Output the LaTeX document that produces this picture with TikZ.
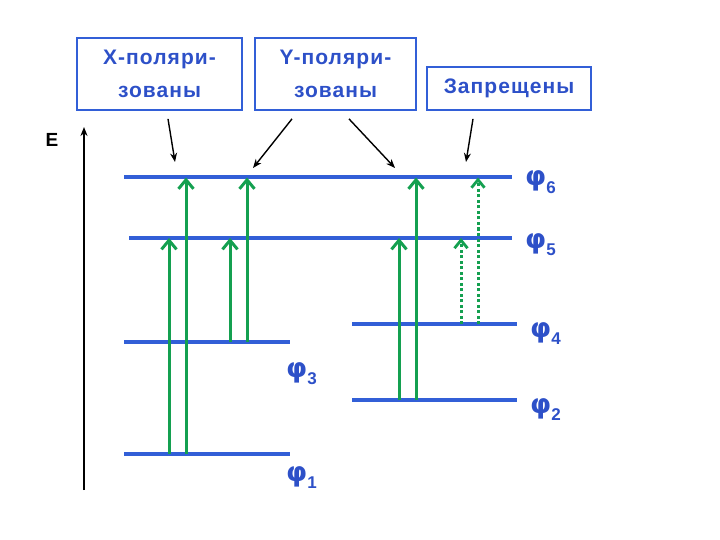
\documentclass[tikz,border=0pt]{standalone}
\usepackage{fontspec}
\setmainfont{Liberation Sans}
\newfontfamily\boxfont{Liberation Sans}[LetterSpace=5]
\newfontfamily\phifont{DejaVu Sans}
\usetikzlibrary{arrows.meta, positioning}
\definecolor{lvlblue}{RGB}{50,95,215}
\definecolor{txtblue}{RGB}{45,80,200}
\definecolor{trgreen}{RGB}{20,160,80}
\tikzset{>=Stealth}
\newcommand{\phil}[1]{{\phifont\bfseries\fontsize{27}{27}\selectfont φ}\raisebox{-7pt}{\fontsize{17}{17}\selectfont\bfseries #1}}

\begin{document}
\begin{tikzpicture}[x=1pt, y=-1pt,
  polbox/.style={draw=lvlblue, line width=1.8pt, text=txtblue, align=center, inner sep=0pt,
    font=\boxfont\bfseries\fontsize{21}{33}\selectfont},
  level/.style={draw=lvlblue, line width=4pt},
  trans/.style={draw=trgreen, line width=3pt, -{Straight Barb[length=9pt, width=15pt, line width=3pt]}},
  forbid/.style={draw=trgreen, line width=3pt, dash pattern=on 3pt off 2.5pt,
    -{Straight Barb[length=8pt, width=13pt, line width=2.8pt]}},
  callout/.style={-{Stealth[length=9pt, width=7pt]}, line width=1.4pt},
  lab/.style={text=txtblue, anchor=base west, inner sep=0pt}]
  \useasboundingbox (0,0) rectangle (720,540);

  % boxes
  \node[polbox, minimum width=165pt, minimum height=72pt] (xbox) at (159.5,74) {X-поляри-\\зованы};
  \node[polbox, minimum width=161pt, minimum height=72pt] (ybox) at (335.5,74) {Y-поляри-\\зованы};
  \node[polbox, minimum width=164pt, minimum height=43pt] (zbox) at (509,88.5) {Запрещены};

  % energy axis
  \node[font=\bfseries\fontsize{19}{19}\selectfont] (en) at (52,140) {E};
  \coordinate (ebot) at (84,490);
  \coordinate (etop) at (84,127);
  \draw[-{Stealth[length=9pt, width=7pt]}, line width=1.6pt] (ebot) -- (etop);

  % levels
  \draw[level] (124,454) coordinate (p1w) -- (290,454) coordinate (p1e);
  \draw[level] (352,400) coordinate (p2w) -- (517,400) coordinate (p2e);
  \draw[level] (124,342) coordinate (p3w) -- (290,342) coordinate (p3e);
  \draw[level] (352,324) coordinate (p4w) -- (517,324) coordinate (p4e);
  \draw[level] (129,238) coordinate (p5w) -- (512,238) coordinate (p5e);
  \draw[level] (124,177.5) coordinate (p6w) -- (512,177.5) coordinate (p6e);

  \node[lab] (l6) at (525,186) {\phil{6}};
  \node[lab] (l5) at (525,248) {\phil{5}};
  \node[lab] (l4) at (530,337) {\phil{4}};
  \node[lab] (l3) at (286,377) {\phil{3}};
  \node[lab] (l2) at (530,413) {\phil{2}};
  \node[lab] (l1) at (286,481) {\phil{1}};

  % transitions
  \foreach \x/\a/\b in {169/p1w/p5w, 186/p1w/p6w, 230/p3w/p5w, 247/p3w/p6w, 399/p2w/p5w, 416/p2w/p6w}
    \draw[trans] (\x,0 |- \a) -- (\x,0 |- \b);
  \foreach \x/\a/\b in {461/p4w/p5w, 478/p4w/p6w}
    \draw[forbid] (\x,0 |- \a) -- (\x,0 |- \b);

  % pointers
  \coordinate (t1) at (175,162);
  \coordinate (t2) at (253,168);
  \coordinate (t3) at (395,168);
  \coordinate (t4) at (466,162);
  \draw[callout] ([xshift=8.5pt, yshift=-8pt]xbox.south) -- (t1);
  \draw[callout] ([xshift=-43.5pt, yshift=-8pt]ybox.south) -- (t2);
  \draw[callout] ([xshift=13.5pt, yshift=-8pt]ybox.south) -- (t3);
  \draw[callout] ([xshift=-36pt, yshift=-8pt]zbox.south) -- (t4);
\end{tikzpicture}
\end{document}
